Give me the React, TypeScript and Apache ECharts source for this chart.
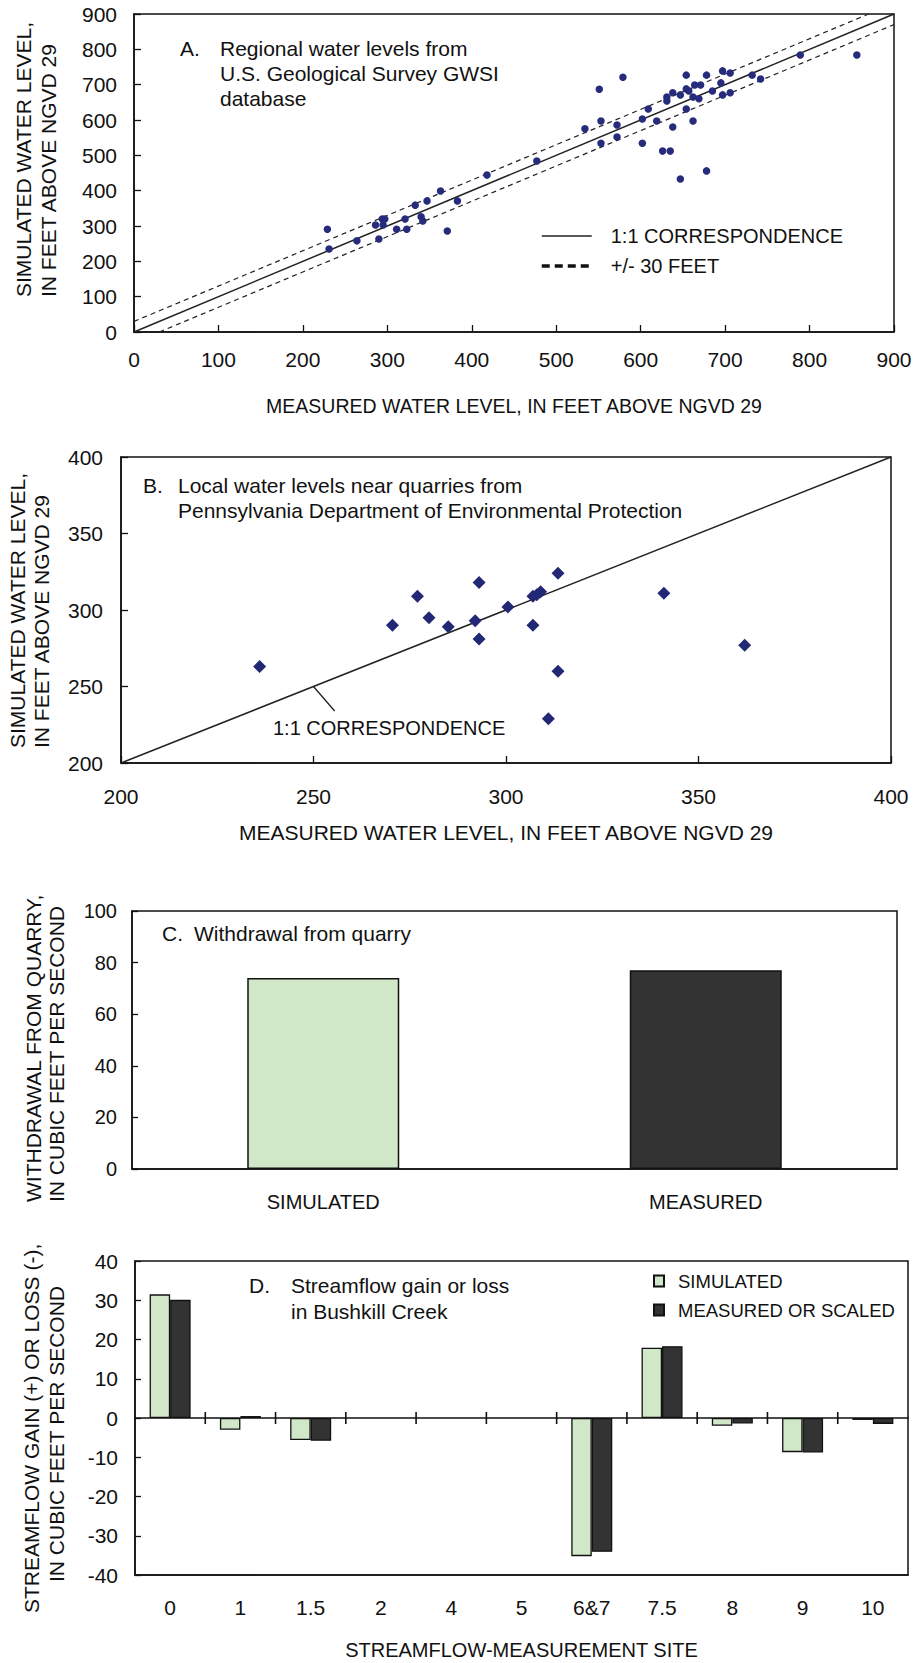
import React, { useEffect, useRef } from 'react';
import * as echarts from 'echarts';

// ---------- DATA ----------
// Panel A: regional water levels (GWSI)
const aMeasured = [229, 231, 264, 286, 290, 294, 297, 295, 311, 321, 323, 333, 340, 342, 347, 363, 371, 383, 418, 477, 534, 551, 553, 553, 572, 572, 579, 602, 602, 609, 619, 626, 635, 631, 631, 638, 638, 647, 647, 654, 654, 654, 657, 662, 662, 664, 671, 669, 678, 678, 685, 695, 697, 697, 706, 706, 732, 742, 789, 856];
const aSimulated = [291, 235, 258, 303, 263, 320, 320, 303, 291, 320, 291, 359, 326, 314, 371, 399, 286, 371, 444, 484, 575, 687, 597, 534, 586, 552, 721, 603, 534, 631, 597, 512, 512, 665, 654, 677, 580, 671, 433, 727, 688, 631, 682, 665, 597, 699, 699, 660, 727, 456, 682, 705, 739, 671, 733, 677, 727, 716, 784, 784];
const aTicks = [0, 900, 100];
const oneToOneAX = [0, 900];
const oneToOneAY = [0, 900];
const plus30X = [0, 870];
const plus30Y = [30, 900];
const minus30X = [30, 900];
const minus30Y = [0, 870];

// Panel B: local water levels near quarries (PA DEP)
const bMeasured = [236, 270.5, 277, 280, 285, 292, 293, 293, 300.5, 307, 307, 308, 309, 313.5, 313.5, 311, 341, 362];
const bSimulated = [263, 290, 309, 295, 289, 293, 318, 281, 302, 290, 309, 310, 312, 324, 260, 229, 311, 277];
const bTicks = [200, 400, 50];
const oneToOneBX = [200, 400];
const oneToOneBY = [200, 400];
const leaderBX = [250, 255.5];
const leaderBY = [250, 234];

// Panel C: withdrawal from quarry
const cCategories = ['SIMULATED', 'MEASURED'];
const cValues = [74, 77];
const cTicks = [0, 100, 20];

// Panel D: streamflow gain or loss in Bushkill Creek
const dSites = ['0', '1', '1.5', '2', '4', '5', '6&7', '7.5', '8', '9', '10'];
const dSimulated = [31.5, -3.0, -5.6, null, null, null, -35.2, 17.9, -2.0, -8.7, -0.5];
const dMeasured = [30.1, 0.5, -5.8, null, null, null, -34.1, 18.3, -1.4, -8.8, -1.5];
const dTicks = [-40, 40, 10];

// ---------- STYLE ----------
const FONT = '"Liberation Sans", Arial, Helvetica, sans-serif';
const INK = '#111111';
const NAVY = '#262B7C';
const GREEN = '#D0E7C8';
const DARK = '#333333';

const pairs = (xs: number[], ys: (number | null)[]) => xs.map((x, i) => [x, ys[i]]);

function valueAxis(gridIndex: number, ticks: number[], labelMargin: number, labelSize: number, extra: any = {}) {
  return {
    type: 'value',
    gridIndex,
    min: ticks[0],
    max: ticks[1],
    interval: ticks[2],
    splitLine: { show: false },
    axisLine: { show: true, onZero: false, lineStyle: { color: INK, width: 1.5 } },
    axisTick: { show: true, inside: true, length: 7, lineStyle: { color: INK, width: 1.3 } },
    axisLabel: { margin: labelMargin, fontSize: labelSize, color: INK, fontFamily: FONT },
    ...extra,
  };
}

function txt(x: number, y: number, text: string, size: number, extra: any = {}) {
  return {
    type: 'text',
    x,
    y,
    silent: true,
    ...extra,
    style: { text, fontSize: size, fontFamily: FONT, fill: INK, align: 'left', verticalAlign: 'middle' },
  };
}

function vtxt(x: number, y: number, text: string, size: number) {
  return txt(x, y, text, size, { rotation: Math.PI / 2 });
}

export default function App() {
  const ref = useRef<HTMLDivElement>(null);

  useEffect(() => {
    document.body.style.margin = '0';
    if (!ref.current) return;
    const chart = echarts.init(ref.current, null, { renderer: 'svg' });

    const gridStyle = { show: true, borderColor: INK, borderWidth: 1.5, backgroundColor: 'transparent', containLabel: false };
    const dashA = { color: '#222', width: 1.2, type: [5, 4] };

    const option: any = {
      animation: false,
      backgroundColor: '#ffffff',
      textStyle: { fontFamily: FONT, color: INK },
      grid: [
        { ...gridStyle, left: 134, top: 14, width: 760, height: 318 },
        { ...gridStyle, left: 121, top: 457, width: 770, height: 306 },
        { ...gridStyle, left: 132, top: 911, width: 765, height: 258 },
        { ...gridStyle, left: 135, top: 1261, width: 773, height: 314 },
      ],
      xAxis: [
        valueAxis(0, aTicks, 17, 21, {
          name: 'MEASURED WATER LEVEL, IN FEET ABOVE NGVD 29',
          nameLocation: 'middle',
          nameGap: 64,
          nameTextStyle: { fontSize: 19.5, color: INK, fontFamily: FONT },
        }),
        valueAxis(1, bTicks, 23, 21, {
          name: 'MEASURED WATER LEVEL, IN FEET ABOVE NGVD 29',
          nameLocation: 'middle',
          nameGap: 59,
          nameTextStyle: { fontSize: 21, color: INK, fontFamily: FONT },
        }),
        {
          type: 'category',
          gridIndex: 2,
          data: cCategories,
          axisLine: { show: true, lineStyle: { color: INK, width: 1.5 } },
          axisTick: { show: false },
          axisLabel: { margin: 23, fontSize: 20, color: INK, fontFamily: FONT, interval: 0 },
          splitLine: { show: false },
        },
        {
          type: 'category',
          gridIndex: 3,
          data: dSites,
          position: 'bottom',
          axisLine: { show: true, onZero: false, lineStyle: { color: INK, width: 1.5 } },
          axisTick: { show: false },
          axisLabel: { margin: 22, fontSize: 21, color: INK, fontFamily: FONT, interval: 0 },
          splitLine: { show: false },
          name: 'STREAMFLOW-MEASUREMENT SITE',
          nameLocation: 'middle',
          nameGap: 65,
          nameTextStyle: { fontSize: 20, color: INK, fontFamily: FONT },
        },
        {
          type: 'category',
          gridIndex: 3,
          data: dSites,
          position: 'bottom',
          axisLine: { show: true, onZero: true, onZeroAxisIndex: 3, lineStyle: { color: INK, width: 1.6 } },
          axisTick: { show: false },
          axisLabel: { show: false },
          splitLine: { show: false },
        },
      ],
      yAxis: [
        valueAxis(0, aTicks, 17, 21),
        valueAxis(1, bTicks, 18, 21),
        valueAxis(2, cTicks, 15, 20, { axisTick: { show: true, inside: true, length: 6, lineStyle: { color: INK, width: 1.3 } } }),
        valueAxis(3, dTicks, 17, 21, { axisTick: { show: true, inside: true, length: 6, lineStyle: { color: INK, width: 1.3 } } }),
      ],
      legend: [
        {
          left: 540,
          top: 226,
          orient: 'vertical',
          padding: 0,
          itemGap: 10,
          itemWidth: 50,
          itemHeight: 14,
          selectedMode: false,
          textStyle: { fontSize: 20, lineHeight: 20, color: INK, fontFamily: FONT, padding: [0, 0, 0, 14] },
          data: [
            { name: '1:1 CORRESPONDENCE', itemStyle: { opacity: 0 }, lineStyle: { width: 1.6, color: '#222', type: 'solid' } },
            { name: '+/- 30 FEET', itemStyle: { opacity: 0 }, lineStyle: { width: 3.5, type: [8, 5], color: '#111' } },
          ],
        },
        {
          left: 653,
          top: 1271,
          orient: 'vertical',
          padding: 0,
          itemGap: 9,
          itemWidth: 10,
          itemHeight: 11,
          icon: 'rect',
          selectedMode: false,
          textStyle: { fontSize: 18.5, lineHeight: 20, color: INK, fontFamily: FONT, padding: [0, 0, 0, 9] },
          data: ['SIMULATED', 'MEASURED OR SCALED'],
        },
      ],
      series: [
        // Panel A
        {
          type: 'line',
          name: '1:1 CORRESPONDENCE',
          xAxisIndex: 0,
          yAxisIndex: 0,
          data: pairs(oneToOneAX, oneToOneAY),
          symbol: 'none',
          lineStyle: { color: '#222', width: 1.5 },
          itemStyle: { color: '#222' },
          z: 2,
        },
        {
          type: 'line',
          name: '+/- 30 FEET',
          xAxisIndex: 0,
          yAxisIndex: 0,
          data: pairs(plus30X, plus30Y),
          symbol: 'none',
          lineStyle: dashA,
          itemStyle: { color: '#222' },
          z: 2,
        },
        {
          type: 'line',
          name: '+/- 30 FEET',
          xAxisIndex: 0,
          yAxisIndex: 0,
          data: pairs(minus30X, minus30Y),
          symbol: 'none',
          lineStyle: dashA,
          itemStyle: { color: '#222' },
          z: 2,
        },
        {
          type: 'scatter',
          xAxisIndex: 0,
          yAxisIndex: 0,
          data: pairs(aMeasured, aSimulated),
          symbol: 'circle',
          symbolSize: 7.5,
          itemStyle: { color: NAVY, opacity: 1 },
          z: 3,
        },
        // Panel B
        {
          type: 'line',
          xAxisIndex: 1,
          yAxisIndex: 1,
          data: pairs(oneToOneBX, oneToOneBY),
          symbol: 'none',
          lineStyle: { color: '#222', width: 1.5 },
          z: 2,
        },
        {
          type: 'line',
          xAxisIndex: 1,
          yAxisIndex: 1,
          data: pairs(leaderBX, leaderBY),
          symbol: 'none',
          lineStyle: { color: '#222', width: 1.3 },
          z: 2,
        },
        {
          type: 'scatter',
          xAxisIndex: 1,
          yAxisIndex: 1,
          data: pairs(bMeasured, bSimulated),
          symbol: 'diamond',
          symbolSize: 13,
          itemStyle: { color: '#232874', opacity: 1 },
          z: 3,
        },
        // Panel C
        {
          type: 'bar',
          xAxisIndex: 2,
          yAxisIndex: 2,
          barWidth: 152,
          data: cValues.map((v, i) => ({ value: v, itemStyle: { color: i === 0 ? GREEN : DARK } })),
          itemStyle: { borderColor: INK, borderWidth: 1.5 },
        },
        // Panel D
        {
          type: 'bar',
          name: 'SIMULATED',
          xAxisIndex: 3,
          yAxisIndex: 3,
          barWidth: 20.5,
          barGap: '0%',
          data: dSimulated,
          itemStyle: { color: GREEN, borderColor: INK, borderWidth: 1.3 },
        },
        {
          type: 'bar',
          name: 'MEASURED OR SCALED',
          xAxisIndex: 3,
          yAxisIndex: 3,
          barWidth: 20.5,
          barGap: '0%',
          data: dMeasured,
          itemStyle: { color: DARK, borderColor: INK, borderWidth: 1.3 },
        },
        // Panel D: tick marks crossing the zero line at the boundaries between sites
        {
          type: 'custom',
          xAxisIndex: 3,
          yAxisIndex: 3,
          silent: true,
          z: 5,
          data: dSites.slice(1).map((s) => [s, 0]),
          renderItem: (params: any, api: any) => {
            const p = api.coord([api.value(0), 0]);
            const band = api.size([1, 0])[0];
            const x = p[0] - band / 2;
            return {
              type: 'line',
              shape: { x1: x, y1: p[1] - 6, x2: x, y2: p[1] + 6 },
              style: { stroke: INK, lineWidth: 1.6 },
            };
          },
        },
      ],
      graphic: [
        // Panel A annotation
        txt(180, 48, 'A.', 21),
        txt(220, 48, 'Regional water levels from', 21),
        txt(220, 73, 'U.S. Geological Survey GWSI', 21),
        txt(220, 98, 'database', 21),
        vtxt(23.5, 297, 'SIMULATED WATER LEVEL,', 21),
        vtxt(48.5, 297, 'IN FEET ABOVE NGVD 29', 21),
        // Panel B annotation
        txt(143, 485, 'B.', 21),
        txt(178, 485, 'Local water levels near quarries from', 21),
        txt(178, 510, 'Pennsylvania Department of Environmental Protection', 21),
        txt(273, 728, '1:1 CORRESPONDENCE', 20),
        vtxt(17, 748, 'SIMULATED WATER LEVEL,', 21),
        vtxt(41.5, 748, 'IN FEET ABOVE NGVD 29', 21),
        // Panel C annotation
        txt(162, 933, 'C.', 21),
        txt(194, 933, 'Withdrawal from quarry', 21),
        vtxt(33, 1202, 'WITHDRAWAL FROM QUARRY,', 21),
        vtxt(56.5, 1202, 'IN CUBIC FEET PER SECOND', 21),
        // Panel D annotation
        txt(249, 1285, 'D.', 21),
        txt(291, 1285, 'Streamflow gain or loss', 21),
        txt(291, 1311, 'in Bushkill Creek', 21),
        vtxt(31.5, 1613, 'STREAMFLOW GAIN (+) OR LOSS (-),', 21),
        vtxt(56.5, 1582, 'IN CUBIC FEET PER SECOND', 21),
      ],
    };

    chart.setOption(option);
    return () => {
      chart.dispose();
    };
  }, []);

  return <div ref={ref} style={{ width: 917, height: 1663 }} />;
}
